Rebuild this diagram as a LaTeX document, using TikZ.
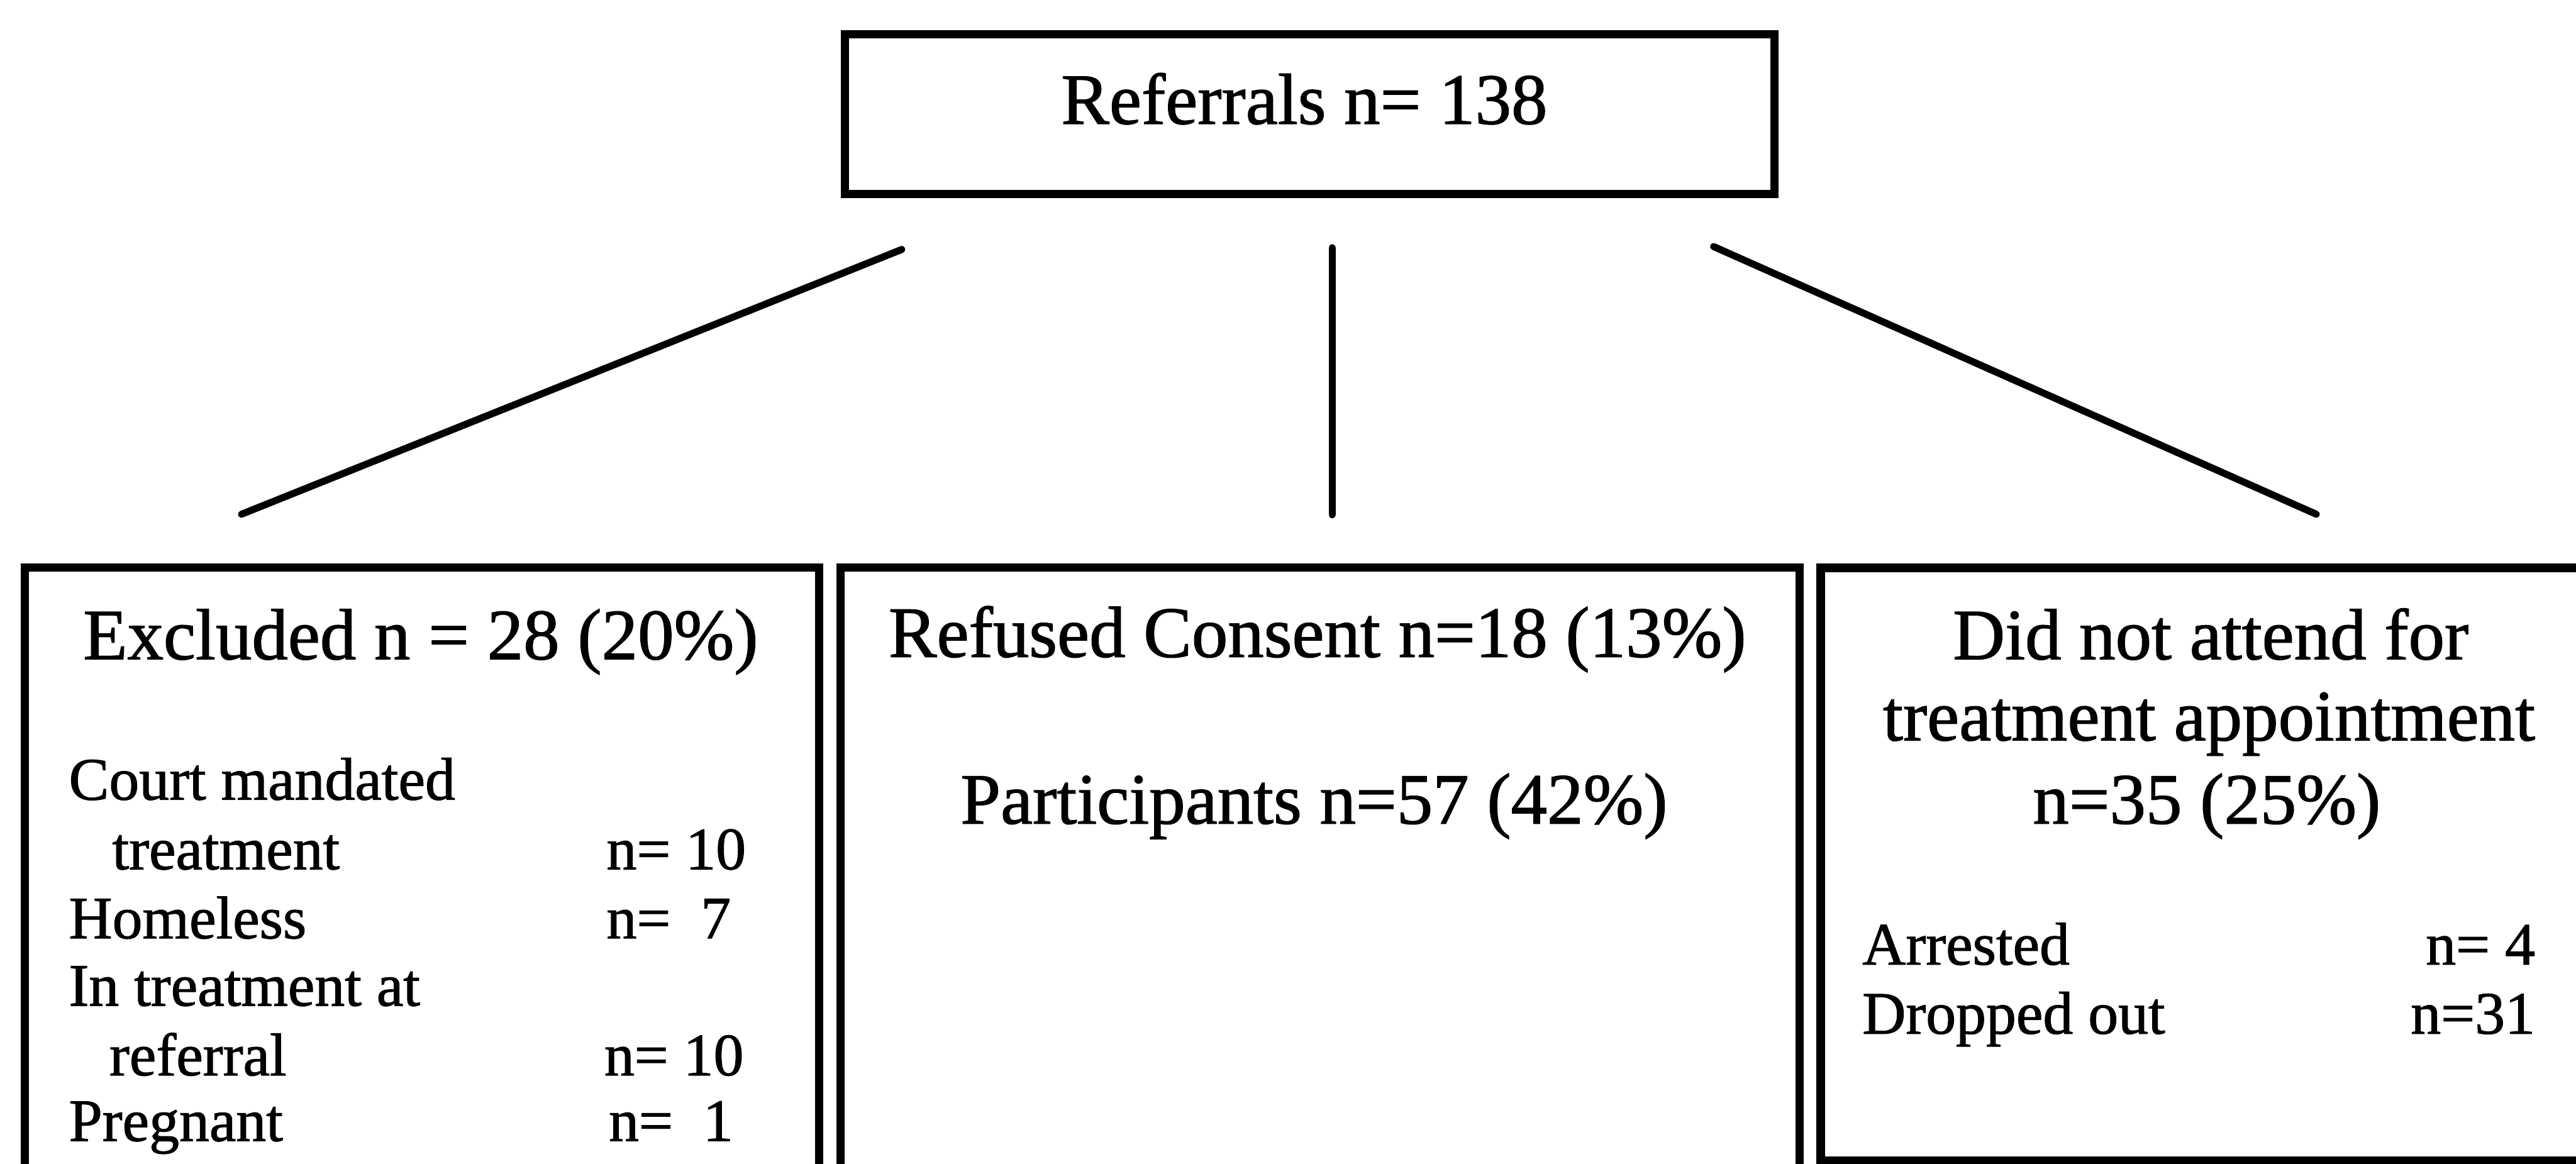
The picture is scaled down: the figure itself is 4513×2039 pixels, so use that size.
\documentclass[tikz,border=0pt]{standalone}
\usepackage{fontspec}
\setmainfont[FakeBold=1.2]{Liberation Serif}
\begin{document}
\begin{tikzpicture}[x=0.01cm,y=-0.01cm,
  box/.style={draw, rectangle, line width=4.2pt, inner sep=0pt},
  conn/.style={line width=3.5pt, line cap=round},
  title/.style={font=\fontsize{36}{43}\selectfont, inner sep=0pt, anchor=base},
  item/.style={font=\fontsize{30}{36}\selectfont, inner sep=0pt, anchor=base west},
  num/.style={font=\fontsize{30}{36}\selectfont, inner sep=0pt, anchor=base east}]
\useasboundingbox (0,0) rectangle (4513,2039);
% boxes
\node[box, minimum width=16.27cm, minimum height=2.80cm] (refbox) at (2294.5,200) {};
\node[box, minimum width=13.91cm, minimum height=11.05cm] (exbox) at (739.5,1547.5) {};
\node[box, minimum width=16.79cm, minimum height=11.05cm] (midbox) at (2312.5,1547.5) {};
\node[box, minimum width=13.50cm, minimum height=10.38cm] (dnabox) at (3865,1514) {};
% connectors
\coordinate (l1) at (1580,437);
\coordinate (l2) at (423,901);
\coordinate (m1) at (2334,434);
\coordinate (m2) at (2334,902);
\coordinate (r1) at (3002,432);
\coordinate (r2) at (4058,901);
\draw[conn] (l1) -- (l2);
\draw[conn] (m1) -- (m2);
\draw[conn] (r1) -- (r2);
% texts
\node[title] (reftxt) at (2285,217) {Referrals n= 138};
\node[title] (extxt) at (737,1155) {Excluded n = 28 (20\%)};
\node[item] (ex1) at (120,1401) {Court mandated};
\node[item] (ex1b) at (196,1523) {treatment};
\node[item] (ex1n) at (1062,1523) {n= 10};
\node[item] (ex2) at (120,1644) {Homeless};
\node[item] (ex2n) at (1062,1644) {n=\ \ 7};
\node[item] (ex3) at (120,1762) {In treatment at};
\node[item] (ex3b) at (191,1884) {referral};
\node[item] (ex3n) at (1058,1884) {n= 10};
\node[item] (ex4) at (120,1999) {Pregnant};
\node[item] (ex4n) at (1066,1999) {n=\ \ 1};
\node[title] (reftx) at (2308,1151) {Refused Consent n=18 (13\%)};
\node[title] (parttx) at (2302,1443) {Participants n=57 (42\%)};
\node[title] (dna1) at (3873,1155) {Did not attend for};
\node[title] (dna2) at (3870,1297) {treatment appointment};
\node[title] (dna3) at (3866,1443) {n=35 (25\%)};
\node[item] (arr) at (3262,1690) {Arrested};
\node[num] (arrn) at (4442,1690) {n= 4};
\node[item] (drop) at (3262,1811) {Dropped out};
\node[num] (dropn) at (4442,1811) {n=31};
\end{tikzpicture}
\end{document}
